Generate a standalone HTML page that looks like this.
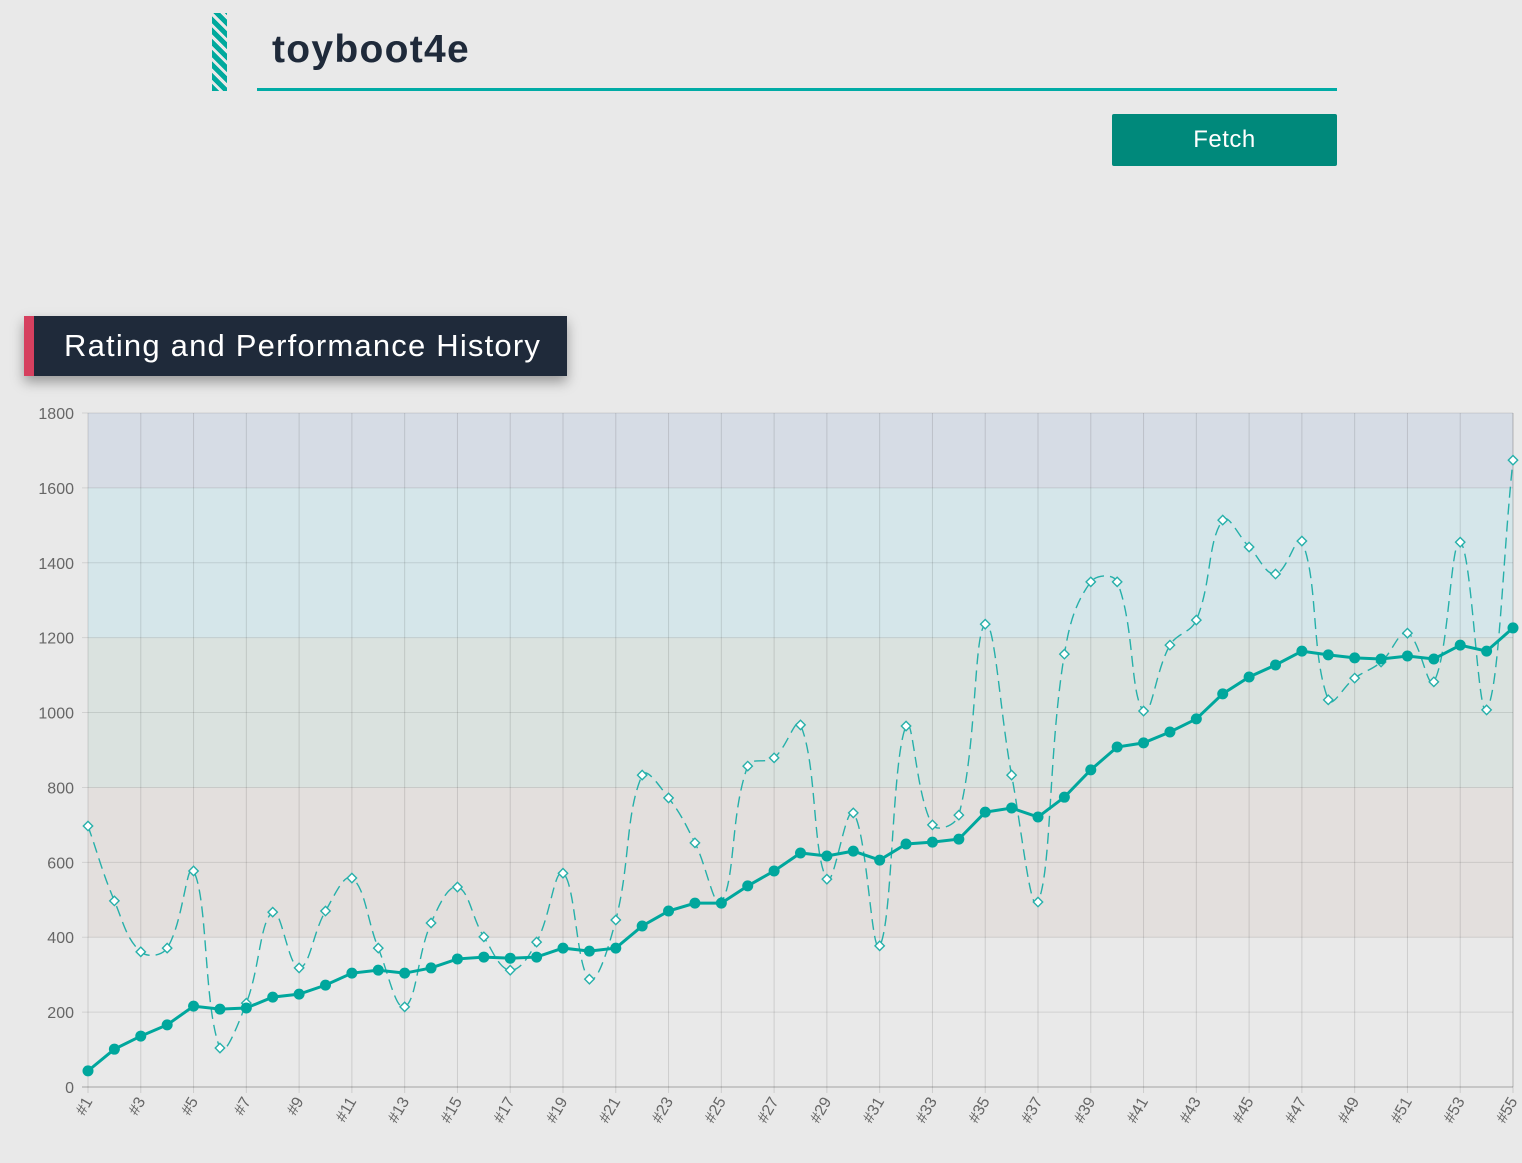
<!DOCTYPE html>
<html><head><meta charset="utf-8"><style>
body{margin:0;width:1522px;height:1163px;background:#e9e9e9;font-family:"Liberation Sans",sans-serif;overflow:hidden;position:relative}
.abs{position:absolute}
</style></head><body>
<div class="abs" style="left:212px;top:13px;width:15px;height:78px;background:repeating-linear-gradient(45deg,#00a99d 0 5px,#e9e9e9 5px 8px)"></div>
<div class="abs" style="left:257px;top:22px;width:1080px;color:#1f2a3a;font-size:39px;letter-spacing:1.3px;font-weight:bold;line-height:56px;padding-left:15px;box-sizing:border-box;height:69px;border-bottom:3px solid #00aba5">toyboot4e</div>
<div class="abs" style="left:1112px;top:114px;width:225px;height:52px;background:#00897b;color:#fff;font-size:24px;line-height:52px;text-align:center;border-radius:2px;letter-spacing:0.5px">Fetch</div>
<div class="abs" style="left:24px;top:316px;width:543px;height:60px;background:#1f2a3a;box-shadow:0 6px 12px rgba(0,0,0,.35);color:#fff;font-size:31px;letter-spacing:1.2px;line-height:60px;box-sizing:border-box;padding-left:30px;border-left:10px solid #d6405f;white-space:nowrap">Rating and Performance History</div>
<svg class="abs" style="left:0;top:0" width="1522" height="1163" id="chart"></svg>
<script>
const ratings=[43,101,136,166,216,208,211,240,248,272,304,312,304,318,342,347,344,347,371,363,371,430,470,491,491,537,577,625,617,630,606,649,654,662,734,745,721,774,847,908,919,948,983,1050,1095,1127,1164,1154,1146,1143,1151,1143,1180,1164,1226];
const performances=[697,497,361,371,577,104,224,467,318,470,558,371,214,438,534,401,312,387,571,288,446,833,772,652,494,857,879,967,555,732,377,964,700,726,1236,833,494,1156,1349,1349,1004,1180,1247,1514,1442,1370,1458,1034,1092,1135,1212,1082,1455,1007,1674];
const yTicks=[0,200,400,600,800,1000,1200,1400,1600,1800];
const bands=[[400,800,'#e3dfdd'],[800,1200,'#dae2df'],[1200,1600,'#d5e6ea'],[1600,1800,'#d6dce5']];
const L=88,R=1513,T=413,B=1087,YMAX=1800;
const svg=document.getElementById('chart');const NS='http://www.w3.org/2000/svg';
const n=ratings.length;
const x=i=>L+(R-L)*i/(n-1);
const y=v=>B-(B-T)*v/YMAX;
function mk(tag,attrs,parent){const e=document.createElementNS(NS,tag);for(const k in attrs)e.setAttribute(k,attrs[k]);(parent||svg).appendChild(e);return e;}
mk('rect',{x:L,y:T,width:R-L,height:B-T,fill:'#e9e9e9'});
bands.forEach(b=>{const r=mk('rect',{x:L,y:y(b[1]),width:R-L,height:y(b[0])-y(b[1]),fill:b[2]});

});
for(let i=0;i<n;i+=2){mk('line',{x1:x(i),x2:x(i),y1:T,y2:B+6,stroke:'rgba(0,0,0,0.12)','stroke-width':1});
const t=mk('text',{x:x(i)+5,y:B+14,'font-size':16,fill:'#666','text-anchor':'end',transform:`rotate(-60 ${x(i)+5} ${B+14})`,'font-family':'Liberation Sans, sans-serif'});t.textContent='#'+(i+1);

}
yTicks.forEach(v=>{mk('line',{x1:L-6,x2:R,y1:y(v),y2:y(v),stroke:v==0?'rgba(0,0,0,0.3)':'rgba(0,0,0,0.1)'});
const t=mk('text',{x:L-14,y:y(v)+6,'font-size':16,fill:'#666','text-anchor':'end','font-family':'Liberation Sans, sans-serif'});t.textContent=v;

});
mk('line',{x1:R,x2:R,y1:T,y2:B,stroke:'rgba(0,0,0,0.12)'});
const pts=performances.map((v,i)=>[x(i),y(v)]);
let d='M'+pts[0][0]+','+pts[0][1];const tn=0.4;
function cps(i){const p=pts[i-1]||pts[i],c=pts[i],nx=pts[i+1]||pts[i];
const d01=Math.hypot(c[0]-p[0],c[1]-p[1]),d12=Math.hypot(nx[0]-c[0],nx[1]-c[1]);
let fa=d01/(d01+d12)||0,fb=d12/(d01+d12)||0;fa*=tn;fb*=tn;
return[[c[0]-fa*(nx[0]-p[0]),c[1]-fa*(nx[1]-p[1])],[c[0]+fb*(nx[0]-p[0]),c[1]+fb*(nx[1]-p[1])]];}
for(let i=1;i<n;i++){const a=cps(i-1)[1],b=cps(i)[0];d+=` C${a[0]},${a[1]} ${b[0]},${b[1]} ${pts[i][0]},${pts[i][1]}`;}
const pp=mk('path',{d:d,fill:'none',stroke:'#26b0aa','stroke-width':1.4,'stroke-dasharray':'11 6'});


pts.forEach(p=>{const r=mk('rect',{x:p[0]-3.3,y:p[1]-3.3,width:6.6,height:6.6,fill:'#fff',stroke:'#26b0aa','stroke-width':1.4,transform:`rotate(45 ${p[0]} ${p[1]})`});

});
const rl=mk('polyline',{points:ratings.map((v,i)=>x(i)+','+y(v)).join(' '),fill:'none',stroke:'#00a79d','stroke-width':3});


ratings.forEach((v,i)=>{const c=mk('circle',{cx:x(i),cy:y(v),r:5.5,fill:'#00a79d'});

});
</script>
</body></html>
